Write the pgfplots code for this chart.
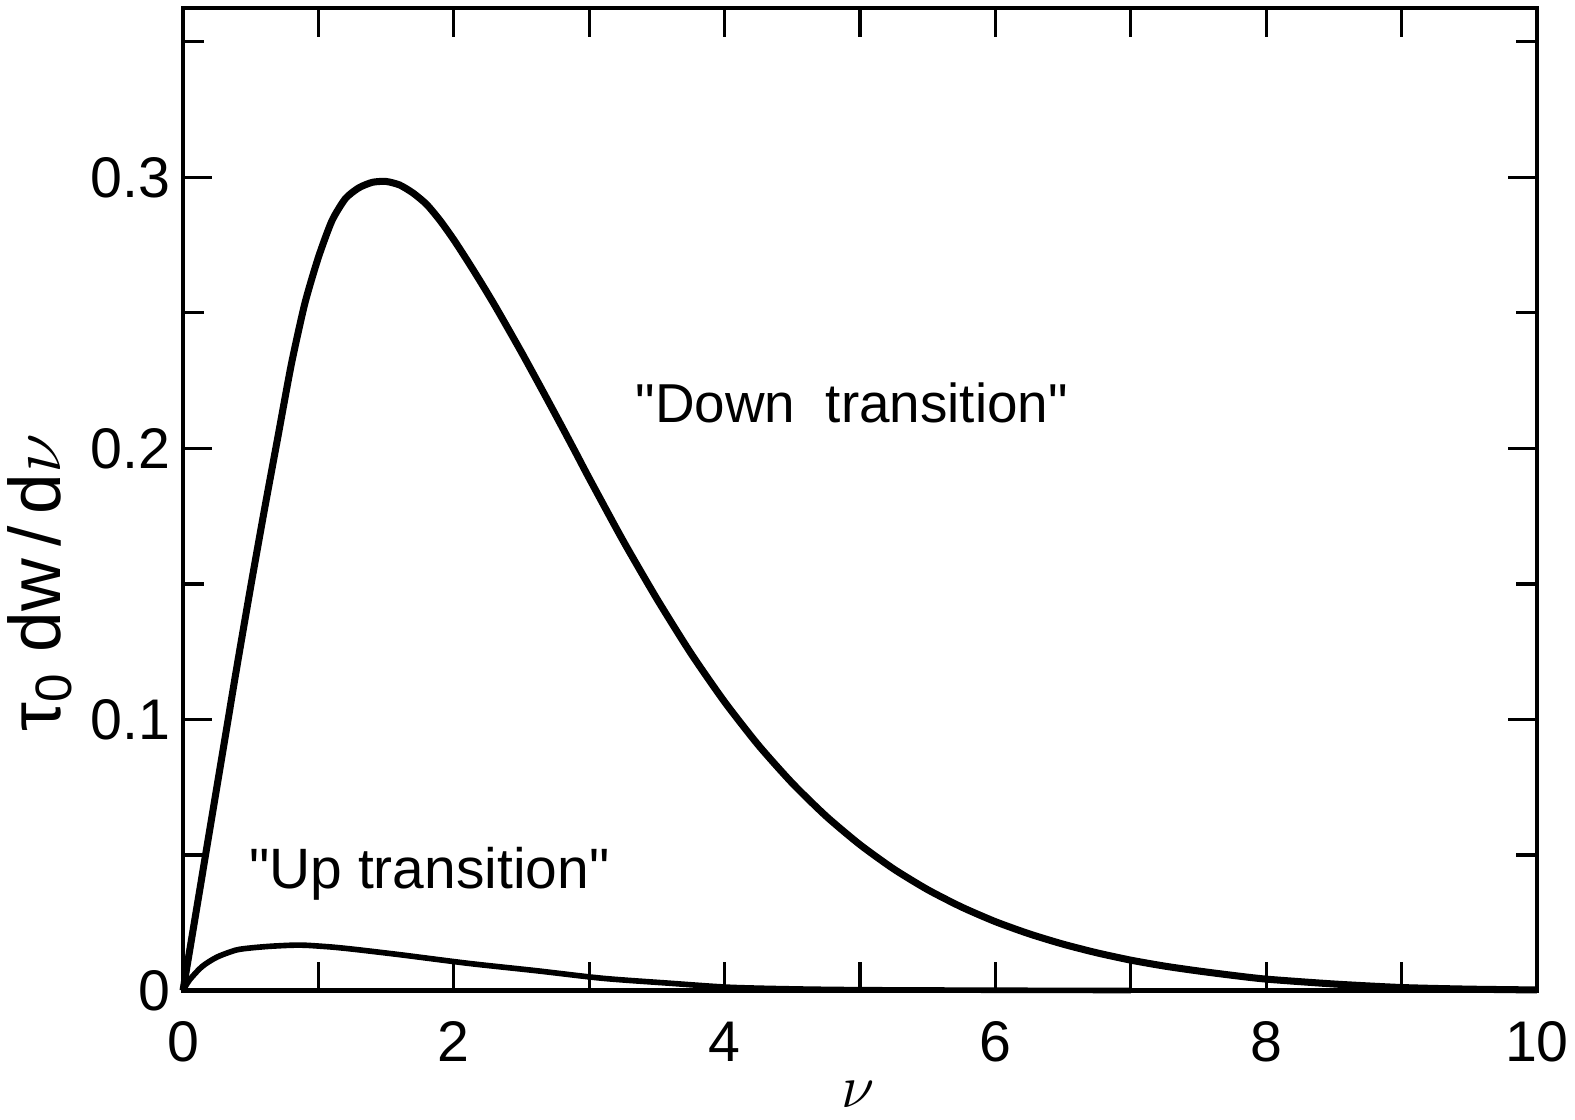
\documentclass[border=0pt]{standalone}
\usepackage{pgfplots}
\pgfplotsset{compat=1.18}
\usepackage{fontspec}
\setmainfont{Liberation Sans}
\newcommand\sq{\XeTeXglyph\XeTeXcharglyph"22\relax}

\begin{document}
\begin{tikzpicture}
\begin{axis}[
  name=ax,
  scale only axis,
  width=135.4mm, height=98.25mm,
  xmin=0, xmax=10, ymin=0, ymax=0.3625,
  xtick={0,1,...,10},
  xticklabels={0,,2,,4,,6,,8,,10},
  ytick={0,0.1,0.2,0.3},
  minor ytick={0.05,0.15,0.25,0.35},
  major tick length=2.9mm,
  minor tick length=2.1mm,
  tick align=inside,
  axis line style={line width=1.2pt},
  every tick/.style={black, line width=0.9pt},
  tick label style={font=\fontsize{16.3}{18}\selectfont},
  /pgf/number format/assume math mode=true,
  xticklabel style={yshift=-1.9mm},
  xlabel={$\nu$},
  xlabel style={at={(axis description cs:0.4985,-0.1055)}, anchor=center, inner sep=0pt, font=\fontsize{17.5}{20}\selectfont},
  ylabel={τ\textsubscript{0} dw\,/\,d$\nu$},
  ylabel style={at={(axis description cs:-0.1056,0.415)}, anchor=center, font=\fontsize{20.8}{24}\selectfont},
  clip=false,
]
% "Down transition"
\addplot[black, line width=2pt, smooth, tension=0.4] coordinates {
(0,0) (0.1,0.030) (0.2,0.060) (0.3,0.090) (0.4,0.120) (0.5,0.149)
(0.6,0.177) (0.7,0.204) (0.8,0.231) (0.9,0.2535) (1.0,0.2705) (1.1,0.2840)
(1.2,0.2922) (1.3,0.2962) (1.4,0.2982) (1.5,0.2985) (1.6,0.2972) (1.7,0.2942)
(1.8,0.2900) (1.9,0.2840) (2.0,0.2770) (2.1,0.2693) (2.2,0.2613) (2.3,0.2530)
(2.4,0.2443) (2.5,0.2355) (2.6,0.2264) (2.7,0.2172) (2.8,0.2079) (2.9,0.1985)
(3.0,0.189) (3.25,0.166) (3.5,0.1445) (3.75,0.1245) (4.0,0.1065) (4.25,0.0905)
(4.5,0.0765) (4.75,0.0643) (5.0,0.0538) (5.25,0.0448) (5.5,0.0372) (5.75,0.0308)
(6.0,0.0254) (6.25,0.0209) (6.5,0.0171) (6.75,0.0139) (7.0,0.0112) (7.25,0.0090)
(7.5,0.0072) (7.75,0.0056) (8.0,0.0042) (8.5,0.0024) (9.0,0.0011) (9.5,0.0005)
(10,0.0002)
};
% "Up transition"
\addplot[black, line width=1.6pt, smooth, tension=0.45] coordinates {
(0,0) (0.05,0.004) (0.14,0.0088) (0.25,0.0123) (0.39,0.0149) (0.5,0.0157)
(0.64,0.0163) (0.8,0.0167) (0.9,0.0167) (1.0,0.0164) (1.13,0.0159) (1.3,0.0150)
(1.62,0.0131) (2.11,0.0100) (2.61,0.0073) (3.1,0.0045) (3.59,0.0027) (4.03,0.0012)
(4.5,0.0006) (5,0.0003) (6,0.0001) (7,0)
};
\node[anchor=base, font=\fontsize{15.6}{18}\selectfont] at (axis cs:4.94,0.2094) {\sq Down\ \ transition\sq};
\node[anchor=base, font=\fontsize{16.2}{18}\selectfont] at (axis cs:1.82,0.0378) {\sq Up transition\sq};
\end{axis}
\pgfresetboundingbox
\useasboundingbox ([shift={(-18.3mm,-12.85mm)}]ax.south west) rectangle ([shift={(3.8mm,0.8mm)}]ax.north east);
\end{tikzpicture}
\end{document}
